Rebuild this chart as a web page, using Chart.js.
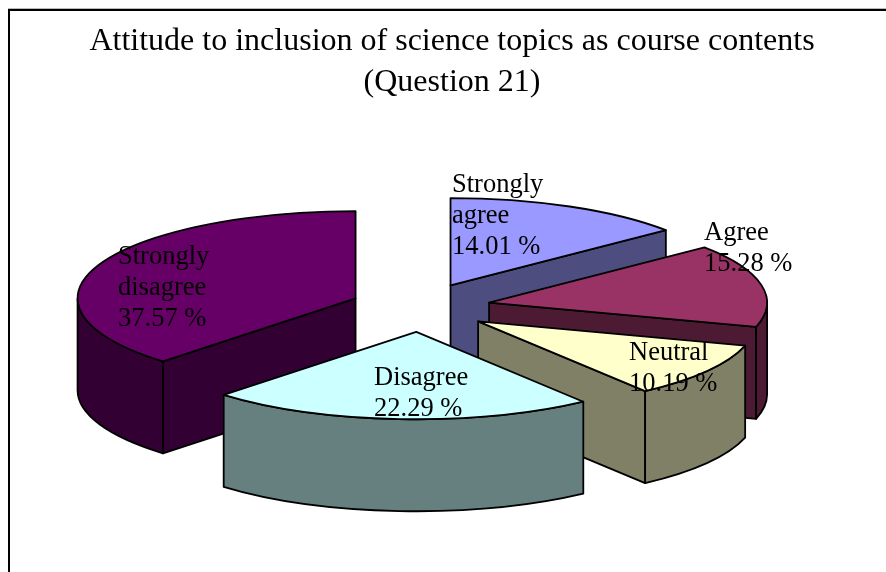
<!DOCTYPE html>
<html>
<head>
<meta charset="utf-8">
<style>
html,body{margin:0;padding:0;background:#fff;overflow:hidden}
#wrap{position:absolute;left:0;top:0;width:886px;height:572px}
#frame{position:absolute;left:8px;top:9px;width:900px;height:600px;border:2px solid #000;border-right:none;border-bottom:none;box-shadow:0 -1px 0 #bbb}
canvas{position:absolute;left:0;top:0}
</style>
<script src="https://cdn.jsdelivr.net/npm/chart.js@4/dist/chart.umd.min.js"></script>
</head>
<body>
<div id="wrap"><div id="frame"></div><canvas id="c" width="886" height="572"></canvas></div>
<script>
const titleLines = ["Attitude to inclusion of science topics as course contents", "(Question 21)"];
const categories = ["Strongly agree", "Agree", "Neutral", "Disagree", "Strongly disagree"];
const values = [14.01, 15.28, 10.19, 22.29, 37.57];
const topColors = ["#9999FF", "#993366", "#FFFFCC", "#CCFFFF", "#660066"];
const wallColors = ["#4D4D80", "#4D1A33", "#808066", "#668080", "#330033"];
const labelLines = [["Strongly", "agree"], ["Agree"], ["Neutral"], ["Disagree"], ["Strongly", "disagree"]];
const labelAnchors = [[452, 192], [704, 240], [629, 360], [374, 385], [118, 264]];
const drawOrder = [0, 4, 1, 2, 3];

const SERIF = '"Liberation Serif","Times New Roman",serif';
const CX = 420.5, CY = 307.5, TILT = 0.314, DEPTH = 92, EXPLODE_X = 70, EXPLODE_Y = 24.5, RADIUS = 278, LINE = 31;

const pie3d = {
  id: 'pie3d',
  beforeDatasetsDraw(chart) {
    const ctx = chart.ctx;
    const arcs = chart.getDatasetMeta(0).data;
    drawOrder.forEach(i => {
      const a = arcs[i];
      const mid = (a.startAngle + a.endAngle) / 2;
      const ox = CX + EXPLODE_X * Math.cos(mid);
      const oy = CY + EXPLODE_Y * Math.sin(mid);
      const px = t => ox + RADIUS * Math.cos(t);
      const py = t => oy + RADIUS * TILT * Math.sin(t);
      ctx.save();
      ctx.lineWidth = 1.8;
      ctx.strokeStyle = '#000';
      ctx.lineJoin = 'round';
      ctx.fillStyle = wallColors[i];
      // radial cut faces that look toward the viewer
      [[a.startAngle, Math.cos(a.startAngle) < -1e-6], [a.endAngle, Math.cos(a.endAngle) > 1e-6]].forEach(([t, vis]) => {
        if (!vis) return;
        ctx.beginPath();
        ctx.moveTo(ox, oy);
        ctx.lineTo(px(t), py(t));
        ctx.lineTo(px(t), py(t) + DEPTH);
        ctx.lineTo(ox, oy + DEPTH);
        ctx.closePath();
        ctx.fill();
        ctx.stroke();
      });
      // outer rim, front half only
      let s = a.startAngle, e = a.endAngle;
      const ranges = [[0, Math.PI], [2 * Math.PI, 3 * Math.PI], [-2 * Math.PI, -Math.PI]];
      ranges.forEach(([lo, hi]) => {
        const r0 = Math.max(s, lo), r1 = Math.min(e, hi);
        if (r1 <= r0) return;
        ctx.beginPath();
        ctx.ellipse(ox, oy, RADIUS, RADIUS * TILT, 0, r0, r1);
        ctx.ellipse(ox, oy + DEPTH, RADIUS, RADIUS * TILT, 0, r1, r0, true);
        ctx.closePath();
        ctx.fill();
        ctx.stroke();
      });
      // top face: the library's own arc, squashed into perspective
      ctx.save();
      ctx.translate(ox, oy);
      ctx.scale(1, TILT);
      ctx.translate(-a.x, -a.y);
      a.draw(ctx);
      ctx.restore();
      ctx.beginPath();
      ctx.moveTo(ox, oy);
      ctx.ellipse(ox, oy, RADIUS, RADIUS * TILT, 0, s, e);
      ctx.closePath();
      ctx.stroke();
      ctx.restore();
    });
    // labels
    ctx.save();
    ctx.fillStyle = '#000';
    ctx.font = '26.5px ' + SERIF;
    ctx.textAlign = 'left';
    ctx.textBaseline = 'alphabetic';
    labelLines.forEach((ls, i) => {
      const lines = ls.concat(values[i].toFixed(2) + ' %');
      lines.forEach((t, k) => ctx.fillText(t, labelAnchors[i][0], labelAnchors[i][1] + k * LINE));
    });
    ctx.restore();
    return false;
  }
};

new Chart(document.getElementById('c'), {
  type: 'pie',
  data: {
    labels: categories,
    datasets: [{ data: values, backgroundColor: topColors, borderWidth: 0, clip: false }]
  },
  options: {
    responsive: false,
    animation: false,
    radius: RADIUS,
    layout: { padding: { left: 18 } },
    plugins: {
      legend: { display: false },
      tooltip: { enabled: false },
      title: {
        display: true,
        text: titleLines,
        color: '#000',
        font: { family: SERIF, size: 32, weight: 'normal', lineHeight: 1.28 },
        padding: { top: 21, bottom: 10 }
      }
    }
  },
  plugins: [pie3d]
});
</script>
</body>
</html>
